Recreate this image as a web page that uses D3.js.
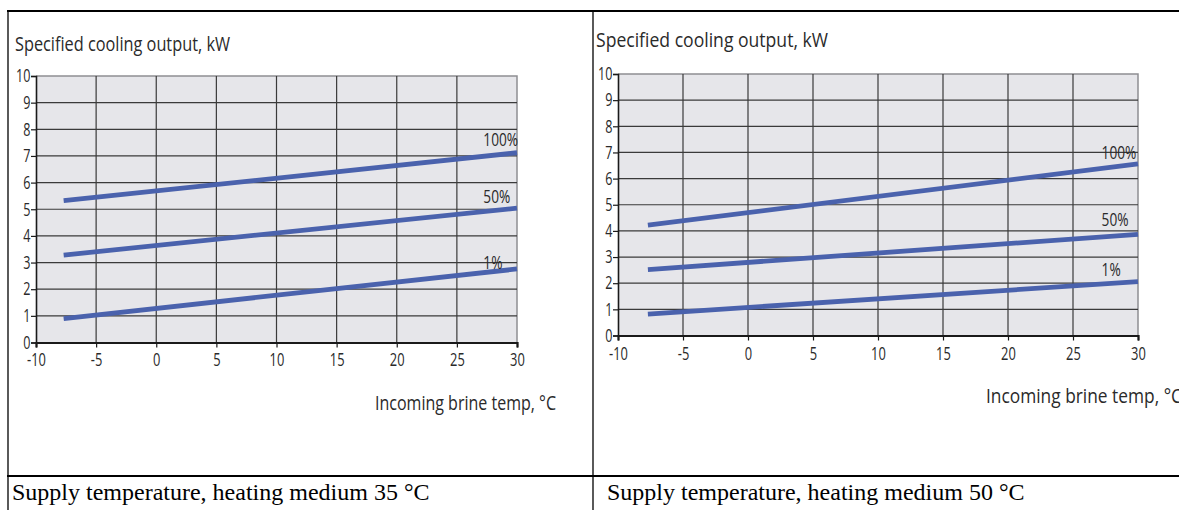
<!DOCTYPE html>
<html>
<head>
<meta charset="utf-8">
<script src="https://cdn.jsdelivr.net/npm/d3@7/dist/d3.min.js"></script>
<style>
  html, body { margin: 0; padding: 0; background: #fff; }
  svg { display: block; }
</style>
</head>
<body>
<svg id="chart" width="1179" height="510"></svg>
<script>
// Incoming brine temperature (°C) at the two ends of each output curve
const brineTemps = [-7.7, 30];

// Specified cooling output (kW), heating medium supply 35 °C
const out35_100 = [5.32, 7.12];
const out35_50  = [3.28, 5.04];
const out35_1   = [0.90, 2.76];

// Specified cooling output (kW), heating medium supply 50 °C
const out50_100 = [4.22, 6.56];
const out50_50  = [2.52, 3.87];
const out50_1   = [0.82, 2.06];

const seriesLabels = ["100%", "50%", "1%"];
const xTicks = [-10, -5, 0, 5, 10, 15, 20, 25, 30];
const yTicks = [0, 1, 2, 3, 4, 5, 6, 7, 8, 9, 10];

const yTitle = "Specified cooling output, kW";
const xTitle = "Incoming brine temp, °C";
const captions = [
  "Supply temperature, heating medium 35 °C",
  "Supply temperature, heating medium 50 °C"
];

const svg = d3.select("#chart");
const sansFont = "'Open Sans', 'DejaVu Sans', sans-serif";
const lineColor = "#4a62ad";
const textColor = "#2a2a2a";

// Layout of each panel
const panels = [
  {
    series: [out35_100, out35_50, out35_1],
    x: [36, 517], y: [342.5, 76],
    title: { x: 15, y: 51, len: 215, size: 20.5 },
    axisTitle: { x: 375, y: 410, len: 181, size: 20 },
    labelOffsets: [15, 13.5, 8.5],
    xLabelGap: 5,
    caption: { x: 12, text: captions[0] }
  },
  {
    series: [out50_100, out50_50, out50_1],
    x: [618, 1138], y: [335.5, 74],
    title: { x: 596, y: 47, len: 232, size: 20 },
    axisTitle: { x: 986, y: 403, len: 196, size: 20 },
    labelOffsets: [14.5, 16.5, 13.5],
    xLabelGap: 6.5,
    caption: { x: 607, text: captions[1] }
  }
];

panels.forEach(p => {
  const x = d3.scaleLinear().domain([-10, 30]).range(p.x);
  const y = d3.scaleLinear().domain([0, 10]).range(p.y);
  const g = svg.append("g");

  // plot background
  g.append("rect")
    .attr("x", x(-10)).attr("y", y(10))
    .attr("width", x(30) - x(-10)).attr("height", y(0) - y(10))
    .attr("fill", "#e6e6ea");

  // frame top and right edges
  g.append("path")
    .attr("d", `M${x(-10)},${y(10)}H${x(30)}V${y(0)}`)
    .attr("fill", "none").attr("stroke", "#8e8e92").attr("stroke-width", 1.5);

  // vertical grid
  g.selectAll(".vgrid").data(xTicks.filter(t => t > -10 && t < 30)).enter()
    .append("line")
    .attr("x1", d => x(d)).attr("x2", d => x(d))
    .attr("y1", y(10)).attr("y2", y(0))
    .attr("stroke", "#3a3a3a").attr("stroke-width", 1.2);

  // horizontal grid
  g.selectAll(".hgrid").data(yTicks.filter(t => t > 0 && t < 10)).enter()
    .append("line")
    .attr("x1", x(-10)).attr("x2", x(30))
    .attr("y1", d => y(d)).attr("y2", d => y(d))
    .attr("stroke", "#3a3a3a").attr("stroke-width", 1.2);

  // left axis
  const ya = g.append("g")
    .attr("transform", `translate(${x(-10)},0)`)
    .call(d3.axisLeft(y).tickValues(yTicks).tickSize(5).tickPadding(3).tickFormat(d => String(d)));
  ya.select(".domain").attr("stroke", "#1a1a1a").attr("stroke-width", 1.6);
  ya.selectAll(".tick line").attr("stroke", "#1a1a1a").attr("stroke-width", 1.2);
  ya.selectAll(".tick text")
    .attr("font-family", sansFont).attr("font-size", 18).attr("fill", textColor)
    .attr("transform", "scale(0.7,1)");

  // bottom axis
  const xa = g.append("g")
    .attr("transform", `translate(0,${y(0)})`)
    .call(d3.axisBottom(x).tickValues(xTicks).tickSize(5).tickPadding(p.xLabelGap).tickFormat(d => String(d)));
  xa.select(".domain").attr("stroke", "#1a1a1a").attr("stroke-width", 2.2);
  xa.selectAll(".tick line").attr("stroke", "#1a1a1a").attr("stroke-width", 1.2);
  xa.selectAll(".tick text")
    .attr("font-family", sansFont).attr("font-size", 19).attr("fill", textColor)
    .attr("transform", "scale(0.68,1)");
  g.selectAll(".domain").attr("fill", "none");

  // output curves
  const line = d3.line().x((d, i) => x(brineTemps[i])).y(d => y(d));
  g.selectAll(".curve").data(p.series).enter()
    .append("path")
    .attr("d", d => line(d))
    .attr("fill", "none").attr("stroke", lineColor)
    .attr("stroke-width", 4.8).attr("stroke-linecap", "butt");

  // curve labels, placed just above each curve near its right end
  p.series.forEach((s, i) => {
    const t = (28.5 - brineTemps[0]) / (brineTemps[1] - brineTemps[0]);
    const yv = y(s[0] + (s[1] - s[0]) * t) - p.labelOffsets[i];
    g.append("text")
      .attr("transform", `translate(${x(27.2)},${yv}) scale(0.76,1)`)
      .attr("dominant-baseline", "central")
      .attr("font-family", sansFont).attr("font-size", 18).attr("fill", textColor)
      .text(seriesLabels[i]);
  });

  // axis titles
  g.append("text")
    .attr("x", p.title.x).attr("y", p.title.y)
    .attr("textLength", p.title.len).attr("lengthAdjust", "spacingAndGlyphs")
    .attr("font-family", sansFont).attr("font-size", p.title.size).attr("fill", textColor)
    .text(yTitle);
  g.append("text")
    .attr("x", p.axisTitle.x).attr("y", p.axisTitle.y)
    .attr("textLength", p.axisTitle.len).attr("lengthAdjust", "spacingAndGlyphs")
    .attr("font-family", sansFont).attr("font-size", p.axisTitle.size).attr("fill", textColor)
    .text(xTitle);

  // caption row
  svg.append("text")
    .attr("x", p.caption.x).attr("y", 500)
    .attr("font-family", "'Liberation Serif', 'Times New Roman', serif")
    .attr("font-size", 24).attr("fill", "#000")
    .text(p.caption.text);
});

// table rules
const rules = svg.append("g").attr("stroke", "#000");
rules.append("line").attr("x1", 7).attr("x2", 1179).attr("y1", 11).attr("y2", 11).attr("stroke-width", 2);
rules.append("line").attr("x1", 7).attr("x2", 1179).attr("y1", 476).attr("y2", 476).attr("stroke-width", 2);
rules.append("line").attr("x1", 8).attr("x2", 8).attr("y1", 10).attr("y2", 510).attr("stroke-width", 1.3);
rules.append("line").attr("x1", 593).attr("x2", 593).attr("y1", 10).attr("y2", 510).attr("stroke-width", 1.3);
</script>
</body>
</html>
